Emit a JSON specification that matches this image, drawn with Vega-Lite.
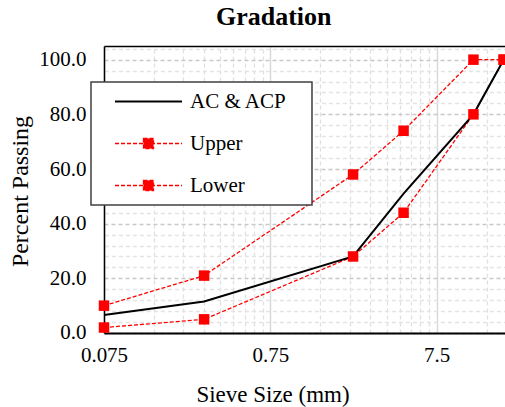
{
  "$schema": "https://vega.github.io/schema/vega-lite/v6.json",
  "width": 403.4,
  "height": 287,
  "autosize": "none",
  "padding": {"left": 104, "top": 46, "right": 0, "bottom": 74},
  "background": "white",
  "config": {"view": {"stroke": null}, "font": "Liberation Serif"},
  "title": {"text": "Gradation", "font": "Liberation Serif", "fontSize": 26, "fontWeight": "bold", "color": "#000000", "anchor": "middle", "baseline": "alphabetic", "offset": 19, "dx": -32, "dy": 24},
  "data": {"values": [
    {"sieve": 0.075, "pct": 6.6, "series": "AC & ACP"},
    {"sieve": 0.3, "pct": 11.5, "series": "AC & ACP"},
    {"sieve": 2.36, "pct": 28, "series": "AC & ACP"},
    {"sieve": 4.75, "pct": 51, "series": "AC & ACP"},
    {"sieve": 12.5, "pct": 80, "series": "AC & ACP"},
    {"sieve": 19, "pct": 100, "series": "AC & ACP"},
    {"sieve": 0.075, "pct": 10, "series": "Upper"},
    {"sieve": 0.3, "pct": 21, "series": "Upper"},
    {"sieve": 2.36, "pct": 58, "series": "Upper"},
    {"sieve": 4.75, "pct": 74, "series": "Upper"},
    {"sieve": 12.5, "pct": 100, "series": "Upper"},
    {"sieve": 19, "pct": 100, "series": "Upper"},
    {"sieve": 0.075, "pct": 2, "series": "Lower"},
    {"sieve": 0.3, "pct": 5, "series": "Lower"},
    {"sieve": 2.36, "pct": 28, "series": "Lower"},
    {"sieve": 4.75, "pct": 44, "series": "Lower"},
    {"sieve": 12.5, "pct": 80, "series": "Lower"},
    {"sieve": 19, "pct": 100, "series": "Lower"}
  ]},
  "resolve": {"axis": {"x": "independent", "y": "independent"}},
  "layer": [
    {
      "transform": [{"filter": "datum.series !== 'AC & ACP'"}],
      "mark": {"type": "line", "strokeWidth": 1.3},
      "encoding": {
        "x": {"field": "sieve", "type": "quantitative",
          "scale": {"type": "log", "domain": [0.075, 20], "nice": false},
          "axis": {"orient": "top", "values": [0.15, 0.225, 0.3, 0.375, 0.45, 0.525, 0.6, 0.675, 1.5, 2.25, 3, 3.75, 4.5, 5.25, 6, 6.75, 15],
            "grid": true, "gridDash": [4, 3], "gridColor": "#e0e0e0", "gridWidth": 1.3,
            "labels": false, "ticks": false, "domain": true, "domainColor": "#000000", "domainWidth": 1.5, "title": null}},
        "y": {"field": "pct", "type": "quantitative",
          "scale": {"domain": [0, 105], "nice": false, "zero": true},
          "axis": {"orient": "right", "values": [4, 8, 12, 16, 24, 28, 32, 36, 44, 48, 52, 56, 64, 68, 72, 76, 84, 88, 92, 96, 104],
            "grid": true, "gridDash": [4, 3], "gridColor": "#e4e4e4", "gridWidth": 1.3,
            "labels": false, "ticks": false, "domain": false, "title": null}},
        "color": {"field": "series", "type": "nominal",
          "scale": {"domain": ["AC & ACP", "Upper", "Lower"], "range": ["#000000", "#ff0000", "#ff0000"]},
          "legend": {
            "title": null, "orient": "none", "legendX": -13, "legendY": 36,
            "padding": 9, "fillColor": "#ffffff", "strokeColor": "#404040",
            "labelFont": "Liberation Serif", "labelFontSize": 21, "labelColor": "#000000", "labelLimit": 300,
            "symbolSize": 100, "symbolStrokeWidth": 1.5, "symbolOffset": 38, "labelOffset": 31, "rowPadding": 20,
            "encode": {
              "legend": {"update": {"strokeWidth": {"value": 1.5}}},
              "symbols": {"update": {
              "shape": {"signal": "datum.value === 'AC & ACP' ? 'M-6.7,0H6.7M30,0' : 'M-6.7,0H6.7M-1,-1H1V1H-1ZM30,0'"},
              "fill": {"signal": "datum.value === 'AC & ACP' ? 'transparent' : '#ff0000'"},
              "stroke": {"signal": "datum.value === 'AC & ACP' ? '#000000' : '#ff0000'"},
              "strokeWidth": {"signal": "datum.value === 'AC & ACP' ? 2 : 1.3"},
              "strokeDash": {"signal": "datum.value === 'AC & ACP' ? [1, 0] : [4, 2]"},
              "opacity": {"value": 1}
            }}}
          }},
        "strokeDash": {"field": "series", "type": "nominal",
          "scale": {"domain": ["AC & ACP", "Upper", "Lower"], "range": [[1, 0], [4, 2], [4, 2]]},
          "legend": null}
      }
    },
    {
      "transform": [{"filter": "datum.series === 'AC & ACP'"}],
      "mark": {"type": "line", "strokeWidth": 2},
      "encoding": {
        "x": {"field": "sieve", "type": "quantitative",
          "axis": {"orient": "bottom", "values": [0.075, 0.75, 7.5], "format": "~g",
            "grid": true, "gridColor": "#d9d9d9", "gridWidth": 1.5,
            "ticks": false, "domain": true, "domainColor": "#000000", "domainWidth": 2,
            "labelFont": "Liberation Serif", "labelFontSize": 21, "labelColor": "#000000", "labelPadding": 12, "labelFlush": false,
            "title": "Sieve Size (mm)", "titleFont": "Liberation Serif", "titleFontSize": 23, "titleFontWeight": "normal", "titleColor": "#000000",
            "titleX": 168.5, "titleY": 69, "titleBaseline": "alphabetic", "titleAlign": "center"}},
        "y": {"field": "pct", "type": "quantitative",
          "axis": {"orient": "left", "values": [0, 20, 40, 60, 80, 100], "format": ".1f",
            "grid": true, "gridDash": [4, 3], "gridColor": "#c8c8c8", "gridWidth": 1.3,
            "ticks": false, "domain": true, "domainColor": "#000000", "domainWidth": 1.5,
            "labelFont": "Liberation Serif", "labelFontSize": 21, "labelColor": "#000000", "labelPadding": 18,
            "title": "Percent Passing", "titleFont": "Liberation Serif", "titleFontSize": 24, "titleFontWeight": "normal", "titleColor": "#000000",
            "titleAngle": 270, "titleX": -83, "titleY": 145, "titleBaseline": "middle", "titleAlign": "center"}},
        "color": {"field": "series", "type": "nominal"}
      }
    },
    {
      "transform": [{"filter": "datum.series !== 'AC & ACP'"}],
      "mark": {"type": "point", "shape": "square", "filled": true, "size": 110, "color": "#ff0000", "opacity": 1},
      "encoding": {
        "x": {"field": "sieve", "type": "quantitative", "axis": null},
        "y": {"field": "pct", "type": "quantitative", "axis": null}
      }
    }
  ]
}
